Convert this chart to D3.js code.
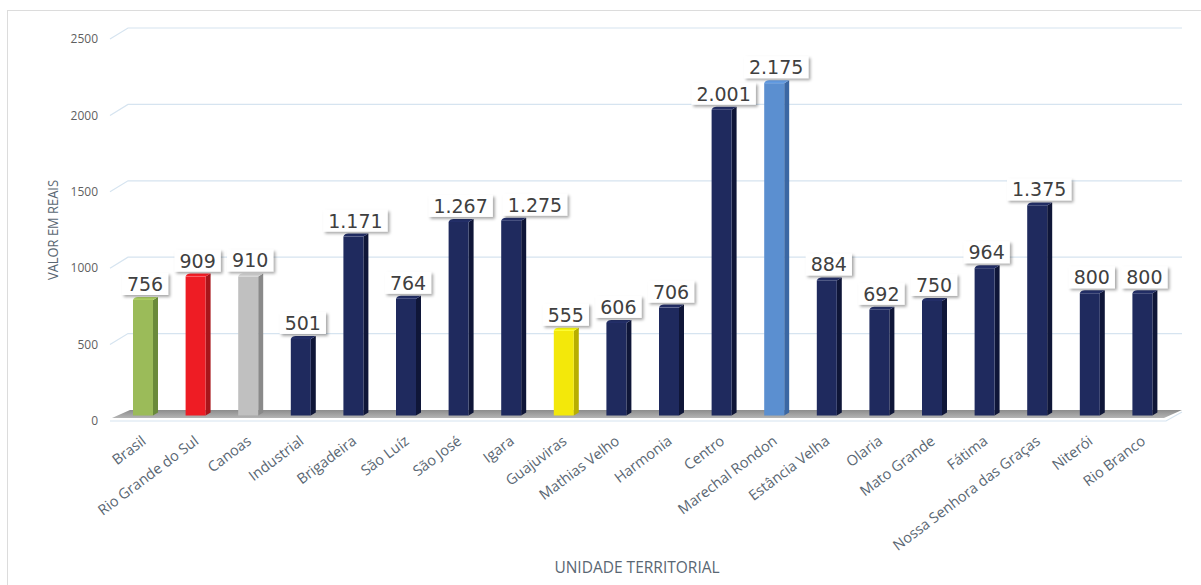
<!DOCTYPE html>
<html>
<head>
<meta charset="utf-8">
<script src="https://cdn.jsdelivr.net/npm/d3@7"></script>
<style>
  body { margin: 0; background: #fff; }
  svg { display: block; }
</style>
</head>
<body>
<div id="chart"></div>
<script>
// dados
const categories = ['Brasil', 'Rio Grande do Sul', 'Canoas', 'Industrial', 'Brigadeira', 'São Luíz', 'São José',
  'Igara', 'Guajuviras', 'Mathias Velho', 'Harmonia', 'Centro', 'Marechal Rondon', 'Estância Velha',
  'Olaria', 'Mato Grande', 'Fátima', 'Nossa Senhora das Graças', 'Niterói', 'Rio Branco'];
const values = [756, 909, 910, 501, 1171, 764, 1267, 1275, 555, 606, 706, 2001, 2175, 884, 692, 750, 964, 1375, 800, 800];
const yTicks = [0, 500, 1000, 1500, 2000, 2500];

// cores: [frente, lado]
const defaultColor = ['#1f2a5e', '#0f1638'];
const specialColors = {
  'Brasil': ['#9bbb59', '#6a8a3a'],
  'Rio Grande do Sul': ['#ee1c24', '#a8151a'],
  'Canoas': ['#c0c0c0', '#8a8a8a'],
  'Guajuviras': ['#f3e80a', '#b8ae00'],
  'Marechal Rondon': ['#5b8fd0', '#3b67a3']
};
const colorOf = c => specialColors[c] || defaultColor;

const W = 1201, H = 585;
const svg = d3.select('#chart').append('svg').attr('width', W).attr('height', H);

const defs = svg.append('defs');
const sh = defs.append('filter').attr('id', 'shadow').attr('x', '-20%').attr('y', '-20%').attr('width', '150%').attr('height', '160%');
sh.append('feDropShadow').attr('dx', 2).attr('dy', 2).attr('stdDeviation', 1.5).attr('flood-color', '#000').attr('flood-opacity', 0.35);
const fg = defs.append('linearGradient').attr('id', 'floor').attr('x1', 0).attr('y1', 0).attr('x2', 0).attr('y2', 1);
fg.append('stop').attr('offset', '0%').attr('stop-color', '#8c8c8c');
fg.append('stop').attr('offset', '100%').attr('stop-color', '#b4b4b4');

// moldura
svg.append('rect').attr('x', 7.5).attr('y', 10.5).attr('width', 1200).attr('height', 590)
  .attr('fill', 'none').attr('stroke', '#dcdcdc');

// escalas (plano das barras, no meio da profundidade)
const y = d3.scaleLinear().domain([0, 2500]).range([415.5, 33.5]);
const x = d3.scaleBand().domain(categories).range([116.7, 1168.7]).paddingInner(0.62).paddingOuter(0.31);
const front = 5.5, back = -5.5, depthX = 18, gridRight = 1182;

// linhas de grade (parede do fundo)
svg.append('g').selectAll('path').data(yTicks.slice(1)).join('path')
  .attr('d', v => `M 110 ${y(v) + front} L ${110 + depthX} ${y(v) + back} H ${gridRight}`)
  .attr('fill', 'none').attr('stroke', '#d6e4f0').attr('stroke-width', 1.2);

// piso
const y0f = y(0) + front, y0b = y(0) + back;
svg.append('path')
  .attr('d', `M 112 ${y0f - 3} L 1164 ${y0f - 3} L ${gridRight} ${y0b} L ${112 + depthX} ${y0b} Z`)
  .attr('fill', 'url(#floor)');
svg.append('path').attr('d', `M 110 ${y0f} H 1166 L ${gridRight} ${y0b + 2}`)
  .attr('fill', 'none').attr('stroke', '#d6e4f0').attr('stroke-width', 1.2);

// rótulos do eixo y
svg.append('g').selectAll('text').data(yTicks).join('text')
  .attr('x', 98).attr('y', v => y(v) + front).attr('dy', '0.35em')
  .attr('text-anchor', 'end').attr('font-family', 'Open Sans').attr('font-size', 12)
  .attr('fill', '#5f5f5f').text(v => v);

// barras 3D
const dx = 5, dy = -3;
const bars = svg.append('g').selectAll('g').data(categories).join('g');
bars.each(function (c, i) {
  const g = d3.select(this);
  const x0 = x(c), bw = x.bandwidth(), yt = y(values[i]), yb = y(0);
  const [cf, cs] = colorOf(c);
  g.append('path')
    .attr('d', `M ${x0 + bw} ${yt} L ${x0 + bw + dx} ${yt + dy} V ${yb + dy} L ${x0 + bw} ${yb} Z`)
    .attr('fill', cs);
  g.append('rect').attr('x', x0).attr('y', yt).attr('width', bw).attr('height', yb - yt).attr('fill', cf);
  g.append('path')
    .attr('d', `M ${x0} ${yt} Q ${x0 + 1} ${yt + dy} ${x0 + dx} ${yt + dy} H ${x0 + bw + dx} L ${x0 + bw} ${yt} Z`)
    .attr('fill', d3.color(cf).brighter(0.3));
});

// rótulos de valores (deslocados para a direita quando se sobrepõem)
const fmt = d3.formatLocale({ decimal: ',', thousands: '.', grouping: [3], currency: ['R$', ''] }).format(',d');
const measure = svg.append('text').attr('font-family', 'DejaVu Sans').attr('font-size', 19);
let prev = null;
const boxes = categories.map((c, i) => {
  const t = fmt(values[i]);
  measure.text(t);
  const w = measure.node().getComputedTextLength() + 10;
  let cx = x(c) + x.bandwidth() / 2 + 2;
  const bottom = y(values[i]) - 5;
  if (prev && cx - w / 2 < prev.cx + prev.w / 2 + 2 && Math.abs(bottom - prev.bottom) < 22) {
    cx = prev.cx + prev.w / 2 + 10 + w / 2;
  }
  prev = { cx, w, bottom, t };
  return prev;
});
measure.remove();
const labels = svg.append('g').selectAll('g').data(boxes).join('g')
  .attr('transform', b => `translate(${b.cx},${b.bottom})`);
labels.append('rect').attr('x', b => -b.w / 2).attr('y', -22).attr('width', b => b.w).attr('height', 22)
  .attr('fill', '#fff').attr('filter', 'url(#shadow)');
labels.append('text').attr('y', -4).attr('text-anchor', 'middle')
  .attr('font-family', 'DejaVu Sans').attr('font-size', 19).attr('fill', '#404040').text(b => b.t);

// rótulos do eixo x
svg.append('g').selectAll('text').data(categories).join('text')
  .attr('transform', c => `translate(${x(c) + x.bandwidth() / 2 + 4},443) rotate(-37)`)
  .attr('text-anchor', 'end').attr('font-family', 'Open Sans').attr('font-size', 14.5)
  .attr('fill', '#5a6773').text(c => c);

// títulos dos eixos
svg.append('text').attr('x', 637).attr('y', 573).attr('text-anchor', 'middle')
  .attr('font-family', 'Open Sans').attr('font-size', 15.5).attr('fill', '#5a6773')
  .text('UNIDADE TERRITORIAL');
svg.append('text').attr('transform', 'translate(58,230) rotate(-90)').attr('text-anchor', 'middle')
  .attr('font-family', 'Open Sans').attr('font-size', 15).attr('fill', '#5a6773')
  .attr('textLength', 100).attr('lengthAdjust', 'spacingAndGlyphs')
  .text('VALOR EM REAIS');
</script>
</body>
</html>
